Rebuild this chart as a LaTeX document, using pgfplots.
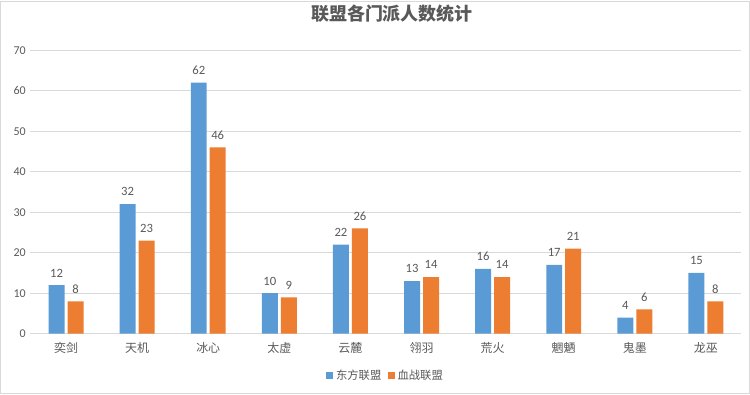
\documentclass[border=0pt]{standalone}
\usepackage{pgfplots}
\pgfplotsset{compat=1.18}
\usepackage{fontspec}
\setmainfont{Carlito}
\newfontfamily\cjk{Noto Sans CJK SC}
\definecolor{cblue}{HTML}{5B9BD5}
\definecolor{corange}{HTML}{ED7D31}
\definecolor{tgrey}{HTML}{595959}
\definecolor{ggrey}{HTML}{D9D9D9}
\begin{document}
\begin{tikzpicture}
\begin{axis}[
  scale only axis,
  width=534pt, height=213pt,
  ybar=2.25pt, bar width=12pt,
  xmin=-0.5, xmax=9.5, ymin=0, ymax=70,
  xtick={0,...,9},
  xticklabels={奕剑,天机,冰心,太虚,云麓,翎羽,荒火,魍魉,鬼墨,龙巫},
  xticklabel style={font=\cjk\fontsize{9}{10}\selectfont, text=tgrey, yshift=-3pt},
  ytick={0,10,...,70},
  yticklabel style={font=\fontsize{9}{10}\selectfont, text=tgrey},
  /pgf/number format/assume math mode=true,
  major tick length=0pt,
  axis line style={draw=none},
  ymajorgrids, grid style={ggrey, line width=0.6pt},
  nodes near coords,
  nodes near coords style={font=\fontsize{9.5}{10}\selectfont, text=tgrey, yshift=2.5pt},
  title={\cjk\bfseries 联盟各门派人数统计},
  title style={at={(0.5,1)}, anchor=center, yshift=21.75pt, xshift=4.5pt, text=tgrey, font=\fontsize{13.5}{15}\selectfont},
  legend style={at={(0.5,-0.148)}, anchor=center, draw=none, legend columns=2,
    font=\cjk\fontsize{8.5}{10}\selectfont, text=tgrey,
    /tikz/every even column/.append style={column sep=3pt}},
  legend image code/.code={\fill[#1] (0pt,-2.6pt) rectangle (5.2pt,2.6pt);},
  clip=false,
]
\addplot[fill=cblue, draw=none] coordinates {(0,12) (1,32) (2,62) (3,10) (4,22) (5,13) (6,16) (7,17) (8,4) (9,15)};
\addplot[fill=corange, draw=none] coordinates {(0,8) (1,23) (2,46) (3,9) (4,26) (5,14) (6,14) (7,21) (8,6) (9,8)};
\legend{东方联盟,血战联盟}
\end{axis}
\draw[ggrey, line width=0.8pt] (-22.5pt,-45pt) rectangle (540pt,249.75pt);
\end{tikzpicture}
\end{document}
